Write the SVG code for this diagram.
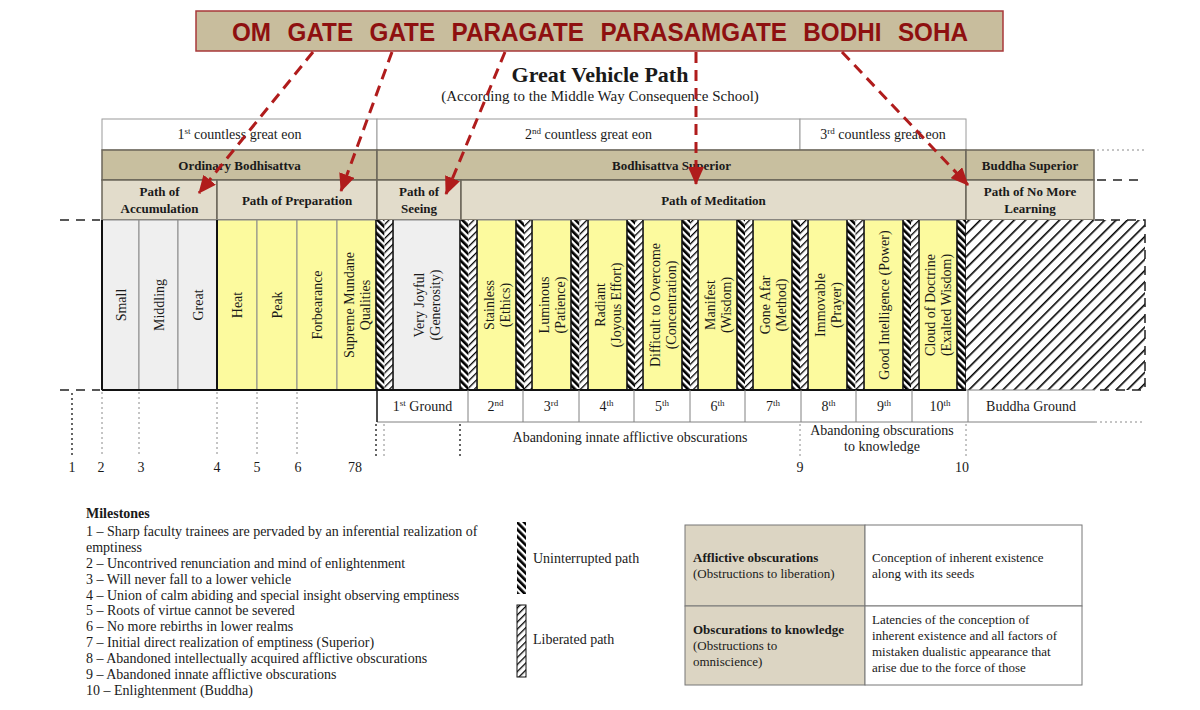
<svg xmlns="http://www.w3.org/2000/svg" width="1200" height="710" viewBox="0 0 1200 710">
<defs>
<style>
text{font-family:'Liberation Serif','Times New Roman',serif;fill:#1a1a1a}
.b{font-weight:bold}
.m{text-anchor:middle}
.f13{font-size:13px}
.f14{font-size:14px}
.col{font-size:14px;text-anchor:middle}
.sup{font-size:9px}
.eon{fill:#fff;stroke:#9a9a9a;stroke-width:1}
.hd{fill:#c8bf9f;stroke:#6b665a;stroke-width:1.5}
.pt{fill:#e2dccb;stroke:#6b665a;stroke-width:1.5}
.gr{fill:#efefef;stroke:#8a8a8a;stroke-width:1}
.ye{fill:#fcfa9e;stroke:#8a8a8a;stroke-width:1}
.thick{stroke:#111;stroke-width:2;fill:none}
.edge{stroke:#111;stroke-width:1.5;fill:none}
.gl{stroke:#808080;stroke-width:1;fill:none}
.dash{stroke:#222;stroke-width:1.5;stroke-dasharray:9 7;fill:none}
.dot{stroke:#8a8a8a;stroke-width:1;stroke-dasharray:2 3;fill:none}
.dotk{stroke:#333;stroke-width:1.5;stroke-dasharray:2 3;fill:none}
.arrow{stroke:#b01c1c;stroke-width:3;stroke-dasharray:11 7;fill:none;marker-end:url(#ah)}
.banner{font-family:'Liberation Sans',Arial,sans-serif;font-weight:bold;font-size:25px;fill:#8e1010}
</style>
<pattern id="pu" width="5" height="5" patternUnits="userSpaceOnUse" patternTransform="rotate(-45)"><rect width="5" height="5" fill="#fff"/><rect width="2.7" height="5" fill="#000"/></pattern>
<pattern id="pl" width="5" height="5" patternUnits="userSpaceOnUse" patternTransform="rotate(45)"><rect width="5" height="5" fill="#fff"/><rect width="1.3" height="5" fill="#000"/></pattern>
<pattern id="ph" width="8" height="8" patternUnits="userSpaceOnUse" patternTransform="rotate(45)"><rect width="8" height="8" fill="#fff"/><rect width="1.6" height="8" fill="#000"/></pattern>
<marker id="ah" markerUnits="userSpaceOnUse" markerWidth="18" markerHeight="16" viewBox="0 0 18 16" refX="17" refY="8" orient="auto"><path d="M0,0 L18,8 L0,16 z" fill="#b01c1c"/></marker>
</defs>
<rect width="1200" height="710" fill="#fff"/>

<g id="banner">
<rect x="196" y="11" width="807" height="40" fill="#c8bd9d" stroke="#a8383a" stroke-width="1.5"/>
<text x="232" y="41" class="banner" word-spacing="10" textLength="736" lengthAdjust="spacingAndGlyphs">OM GATE GATE PARAGATE PARASAMGATE BODHI SOHA</text>
</g>

<g id="title">
<text x="600" y="82" class="b m" font-size="22">Great Vehicle Path</text>
<text x="600" y="101" class="m" font-size="15">(According to the Middle Way Consequence School)</text>
</g>

<g id="eons">
<rect class="eon" x="102" y="119" width="275" height="31"/>
<rect class="eon" x="377" y="119" width="423" height="31"/>
<rect class="eon" x="800" y="119" width="166" height="31"/>
<text x="239.5" y="139" class="f14 m">1<tspan class="sup" dy="-5">st</tspan><tspan dy="5"> countless great eon</tspan></text>
<text x="588.5" y="139" class="f14 m">2<tspan class="sup" dy="-5">nd</tspan><tspan dy="5"> countless great eon</tspan></text>
<text x="883" y="139" class="f14 m">3<tspan class="sup" dy="-5">rd</tspan><tspan dy="5"> countless great eon</tspan></text>
</g>

<g id="stages">
<rect class="hd" x="102" y="150" width="275" height="30"/>
<rect class="hd" x="377" y="150" width="589" height="30"/>
<rect class="hd" x="966" y="150" width="128" height="30"/>
<text x="239.5" y="170" class="f13 b m">Ordinary Bodhisattva</text>
<text x="671.5" y="170" class="f13 b m">Bodhisattva Superior</text>
<text x="1030" y="170" class="f13 b m">Buddha Superior</text>
</g>

<g id="paths">
<rect class="pt" x="102" y="180" width="115" height="40"/>
<rect class="pt" x="217" y="180" width="160" height="40"/>
<rect class="pt" x="377" y="180" width="84" height="40"/>
<rect class="pt" x="461" y="180" width="505" height="40"/>
<rect class="pt" x="966" y="180" width="128" height="40"/>
<text x="159.5" y="196" class="f13 b m">Path of</text>
<text x="159.5" y="213" class="f13 b m">Accumulation</text>
<text x="297" y="205" class="f13 b m">Path of Preparation</text>
<text x="419" y="196" class="f13 b m">Path of</text>
<text x="419" y="213" class="f13 b m">Seeing</text>
<text x="713.5" y="205" class="f13 b m">Path of Meditation</text>
<text x="1030" y="196" class="f13 b m">Path of No More</text>
<text x="1030" y="213" class="f13 b m">Learning</text>
</g>

<g id="columns">
<rect class="gr" x="102" y="220" width="37" height="170"/>
<rect class="gr" x="139" y="220" width="39" height="170"/>
<rect class="gr" x="178" y="220" width="39" height="170"/>
<rect class="ye" x="217" y="220" width="40" height="170"/>
<rect class="ye" x="257" y="220" width="40" height="170"/>
<rect class="ye" x="297" y="220" width="40" height="170"/>
<rect class="ye" x="337" y="220" width="39" height="170"/>
<rect class="gr" x="393" y="220" width="67" height="170"/>
<rect class="ye" x="477" y="220" width="39" height="170"/>
<rect class="ye" x="532" y="220" width="39" height="170"/>
<rect class="ye" x="588" y="220" width="39" height="170"/>
<rect class="ye" x="643" y="220" width="39" height="170"/>
<rect class="ye" x="698" y="220" width="39" height="170"/>
<rect class="ye" x="753" y="220" width="39" height="170"/>
<rect class="ye" x="808" y="220" width="39" height="170"/>
<rect class="ye" x="864" y="220" width="39" height="170"/>
<rect class="ye" x="919" y="220" width="38" height="170"/>
<text class="col" transform="translate(120.5,305) rotate(-90)" y="5">Small</text>
<text class="col" transform="translate(158.5,305) rotate(-90)" y="5">Middling</text>
<text class="col" transform="translate(197.5,305) rotate(-90)" y="5">Great</text>
<text class="col" transform="translate(237,305) rotate(-90)" y="5">Heat</text>
<text class="col" transform="translate(277,305) rotate(-90)" y="5">Peak</text>
<text class="col" transform="translate(317,305) rotate(-90)" y="5">Forbearance</text>
<text class="col" transform="translate(356.5,305) rotate(-90)"><tspan x="0" y="-3">Supreme Mundane</tspan><tspan x="0" y="13">Qualities</tspan></text>
<text class="col" transform="translate(426.5,305) rotate(-90)"><tspan x="0" y="-3">Very Joyful</tspan><tspan x="0" y="13">(Generosity)</tspan></text>
<text class="col" transform="translate(496.5,305) rotate(-90)"><tspan x="0" y="-3">Stainless</tspan><tspan x="0" y="13">(Ethics)</tspan></text>
<text class="col" transform="translate(551.5,305) rotate(-90)"><tspan x="0" y="-3">Luminous</tspan><tspan x="0" y="13">(Patience)</tspan></text>
<text class="col" transform="translate(607.5,305) rotate(-90)"><tspan x="0" y="-3">Radiant</tspan><tspan x="0" y="13">(Joyous Effort)</tspan></text>
<text class="col" transform="translate(662.5,305) rotate(-90)"><tspan x="0" y="-3">Difficult to Overcome</tspan><tspan x="0" y="13">(Concentration)</tspan></text>
<text class="col" transform="translate(717.5,305) rotate(-90)"><tspan x="0" y="-3">Manifest</tspan><tspan x="0" y="13">(Wisdom)</tspan></text>
<text class="col" transform="translate(772.5,305) rotate(-90)"><tspan x="0" y="-3">Gone Afar</tspan><tspan x="0" y="13">(Method)</tspan></text>
<text class="col" transform="translate(827.5,305) rotate(-90)"><tspan x="0" y="-3">Immovable</tspan><tspan x="0" y="13">(Prayer)</tspan></text>
<text class="col" transform="translate(883.5,305) rotate(-90)" y="5">Good Intelligence (Power)</text>
<text class="col" transform="translate(938,305) rotate(-90)"><tspan x="0" y="-3">Cloud of Doctrine</tspan><tspan x="0" y="13">(Exalted Wisdom)</tspan></text>
</g>

<g id="stripes">
<rect x="376" y="220" width="8.5" height="170" fill="url(#pu)"/><rect x="384.5" y="220" width="8.5" height="170" fill="url(#pl)"/>
<rect x="460" y="220" width="8.5" height="170" fill="url(#pu)"/><rect x="468.5" y="220" width="8.5" height="170" fill="url(#pl)"/>
<rect x="516" y="220" width="8" height="170" fill="url(#pu)"/><rect x="524" y="220" width="8" height="170" fill="url(#pl)"/>
<rect x="571" y="220" width="8.5" height="170" fill="url(#pu)"/><rect x="579.5" y="220" width="8.5" height="170" fill="url(#pl)"/>
<rect x="627" y="220" width="8" height="170" fill="url(#pu)"/><rect x="635" y="220" width="8" height="170" fill="url(#pl)"/>
<rect x="682" y="220" width="8" height="170" fill="url(#pu)"/><rect x="690" y="220" width="8" height="170" fill="url(#pl)"/>
<rect x="737" y="220" width="8" height="170" fill="url(#pu)"/><rect x="745" y="220" width="8" height="170" fill="url(#pl)"/>
<rect x="792" y="220" width="8" height="170" fill="url(#pu)"/><rect x="800" y="220" width="8" height="170" fill="url(#pl)"/>
<rect x="847" y="220" width="8.5" height="170" fill="url(#pu)"/><rect x="855.5" y="220" width="8.5" height="170" fill="url(#pl)"/>
<rect x="903" y="220" width="8" height="170" fill="url(#pu)"/><rect x="911" y="220" width="8" height="170" fill="url(#pl)"/>
<rect x="957" y="220" width="9" height="170" fill="url(#pu)"/>
<path class="edge" d="M376,220V390M393,220V390M460,220V390M477,220V390M516,220V390M532,220V390M571,220V390M588,220V390M627,220V390M643,220V390M682,220V390M698,220V390M737,220V390M753,220V390M792,220V390M808,220V390M847,220V390M864,220V390M903,220V390M919,220V390M957,220V390M966,220V390"/>
</g>

<g id="buddha-area">
<rect x="966" y="220" width="179" height="170" fill="url(#ph)"/>
<path class="gl" d="M966,390H1095"/>
<path class="dash" d="M1095,220H1145V390H1095"/>
</g>

<g id="frame">
<path class="thick" d="M102,220V390M217,220V390M102,390H966"/>
<path class="dash" d="M60,220H100M60,390H100M1097,180H1145"/>
<path class="dot" d="M1097,150H1145"/>
</g>

<g id="grounds">
<path class="gl" d="M377,422H1095M468,390V422M523,390V422M579,390V422M634,390V422M690,390V422M745,390V422M801,390V422M856,390V422M912,390V422M968,390V422"/>
<path class="edge" d="M377,390V422" stroke="#555"/>
<path class="dot" d="M1095,422H1145"/>
<text x="422.5" y="411" class="f14 m">1<tspan class="sup" dy="-5">st</tspan><tspan dy="5"> Ground</tspan></text>
<text x="495.5" y="411" class="f14 m">2<tspan class="sup" dy="-5">nd</tspan></text>
<text x="551" y="411" class="f14 m">3<tspan class="sup" dy="-5">rd</tspan></text>
<text x="606.5" y="411" class="f14 m">4<tspan class="sup" dy="-5">th</tspan></text>
<text x="662" y="411" class="f14 m">5<tspan class="sup" dy="-5">th</tspan></text>
<text x="717.5" y="411" class="f14 m">6<tspan class="sup" dy="-5">th</tspan></text>
<text x="773" y="411" class="f14 m">7<tspan class="sup" dy="-5">th</tspan></text>
<text x="828.5" y="411" class="f14 m">8<tspan class="sup" dy="-5">th</tspan></text>
<text x="884" y="411" class="f14 m">9<tspan class="sup" dy="-5">th</tspan></text>
<text x="940" y="411" class="f14 m">10<tspan class="sup" dy="-5">th</tspan></text>
<text x="1031" y="411" class="f14 m">Buddha Ground</text>
<text x="630" y="442" class="f14 m">Abandoning innate afflictive obscurations</text>
<text x="882" y="435" class="f14 m">Abandoning obscurations</text>
<text x="882" y="451" class="f14 m">to knowledge</text>
</g>

<g id="milestone-markers">
<path class="dotk" d="M72,393V456M376,424V456M460,424V456"/>
<path class="dot" d="M102,392V456M139,392V456M217,392V456M257,392V456M297,392V456M384,424V456M800,424V456M966,424V456"/>
<text x="72" y="472" class="f14 m">1</text>
<text x="101" y="472" class="f14 m">2</text>
<text x="141" y="472" class="f14 m">3</text>
<text x="217" y="472" class="f14 m">4</text>
<text x="257" y="472" class="f14 m">5</text>
<text x="298" y="472" class="f14 m">6</text>
<text x="355" y="472" class="f14 m">78</text>
<text x="800" y="472" class="f14 m">9</text>
<text x="962" y="472" class="f14 m">10</text>
</g>

<g id="milestones">
<text x="86" y="518" class="f14 b">Milestones</text>
<text x="86" y="536" class="f14">1 – Sharp faculty trainees are pervaded by an inferential realization of</text>
<text x="86" y="552" class="f14">emptiness</text>
<text x="86" y="568" class="f14">2 – Uncontrived renunciation and mind of enlightenment</text>
<text x="86" y="584" class="f14">3 – Will never fall to a lower vehicle</text>
<text x="86" y="600" class="f14">4 – Union of calm abiding and special insight observing emptiness</text>
<text x="86" y="615" class="f14">5 – Roots of virtue cannot be severed</text>
<text x="86" y="631" class="f14">6 – No more rebirths in lower realms</text>
<text x="86" y="647" class="f14">7 – Initial direct realization of emptiness (Superior)</text>
<text x="86" y="663" class="f14">8 – Abandoned intellectually acquired afflictive obscurations</text>
<text x="86" y="679" class="f14">9 – Abandoned innate afflictive obscurations</text>
<text x="86" y="695" class="f14">10 – Enlightenment (Buddha)</text>
</g>

<g id="legend-paths">
<rect x="517" y="522" width="9" height="72" fill="url(#pu)"/>
<text x="533" y="563" class="f14">Uninterrupted path</text>
<rect x="517" y="605" width="9" height="72" fill="url(#pl)" stroke="#111" stroke-width="1"/>
<text x="533" y="644" class="f14">Liberated path</text>
</g>

<g id="legend-table">
<rect x="685" y="525" width="180" height="81" fill="#dcd5c3" stroke="#777" stroke-width="1"/>
<rect x="865" y="525" width="217" height="81" fill="#fff" stroke="#777" stroke-width="1"/>
<rect x="685" y="606" width="180" height="79" fill="#dcd5c3" stroke="#777" stroke-width="1"/>
<rect x="865" y="606" width="217" height="79" fill="#fff" stroke="#777" stroke-width="1"/>
<text x="693" y="562" class="f13 b">Afflictive obscurations</text>
<text x="693" y="578" class="f13">(Obstructions to liberation)</text>
<text x="872" y="562" class="f13">Conception of inherent existence</text>
<text x="872" y="578" class="f13">along with its seeds</text>
<text x="693" y="634" class="f13 b">Obscurations to knowledge</text>
<text x="693" y="650" class="f13">(Obstructions to</text>
<text x="693" y="666" class="f13">omniscience)</text>
<text x="872" y="624" class="f13">Latencies of the conception of</text>
<text x="872" y="640" class="f13">inherent existence and all factors of</text>
<text x="872" y="656" class="f13">mistaken dualistic appearance that</text>
<text x="872" y="672" class="f13">arise due to the force of those</text>
</g>

<g id="connectors">
<path class="arrow" d="M313,52L199,193"/>
<path class="arrow" d="M392,52L341,191"/>
<path class="arrow" d="M505,52L446,194"/>
<path class="arrow" d="M696,52L696,184"/>
<path class="arrow" d="M842,52L968,185"/>
</g>
</svg>
